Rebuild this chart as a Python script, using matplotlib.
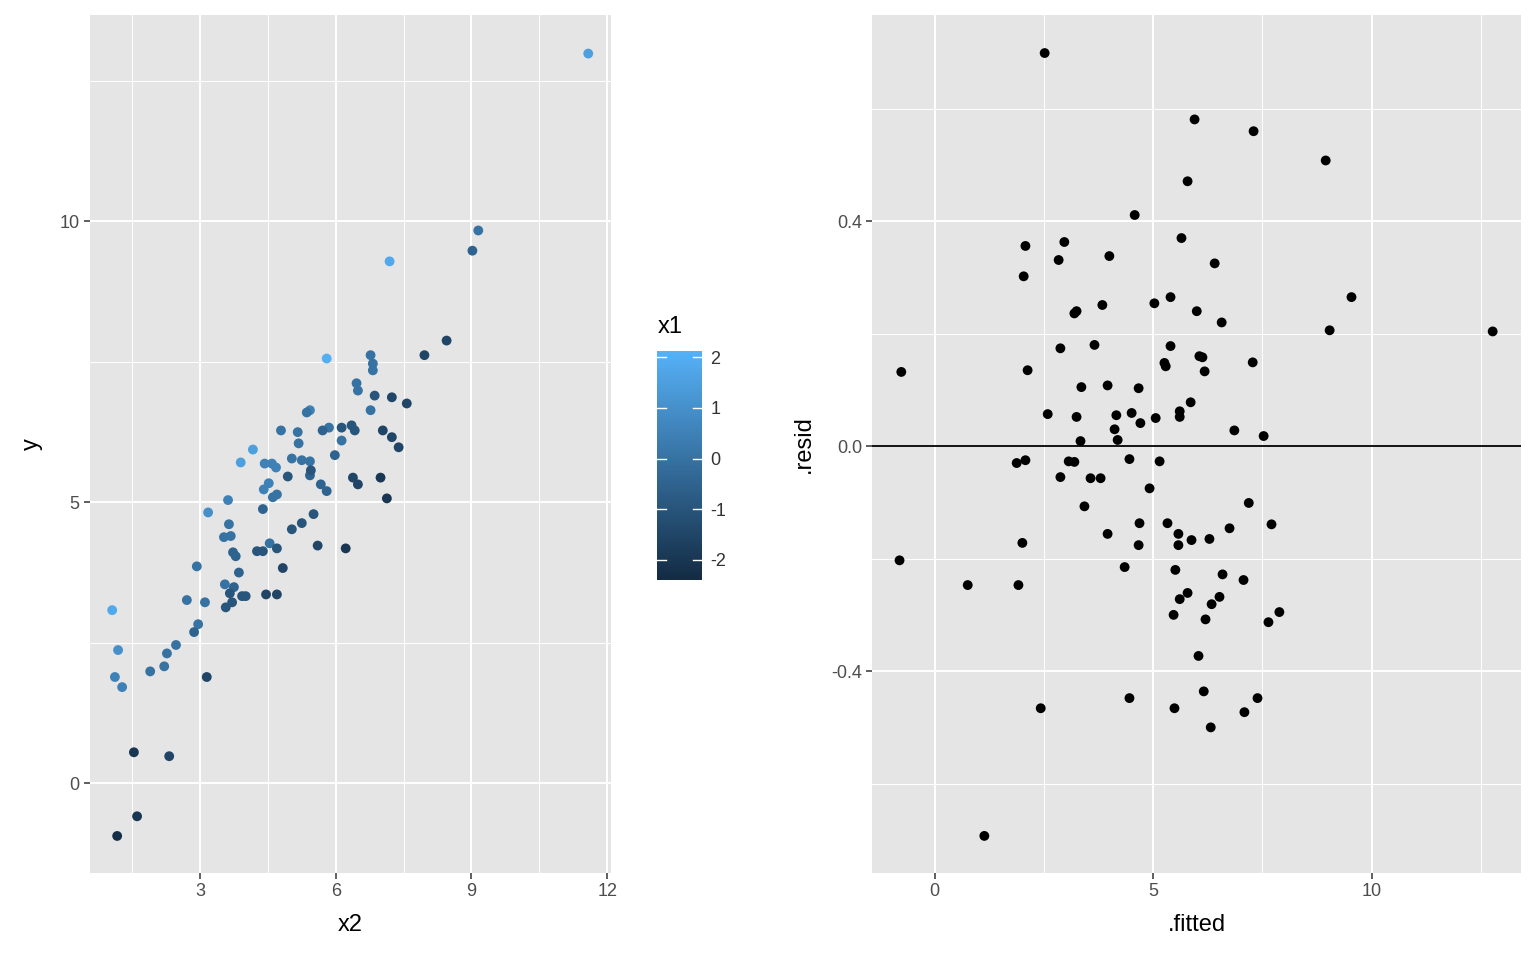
import matplotlib
matplotlib.use("Agg")
import matplotlib.pyplot as plt
import numpy as np
from matplotlib.colors import LinearSegmentedColormap, Normalize

plt.rcParams['font.family'] = ['Liberation Sans', 'DejaVu Sans']
plt.rcParams['axes.unicode_minus'] = False

# left panel: y vs x2, coloured by x1
x2 = [11.58, 9.15, 9.02, 7.19, 8.45, 7.96, 5.80, 6.77, 6.82, 6.82, 6.46, 6.49, 6.86, 7.24, 7.57,
      6.77, 5.43, 5.36, 6.35, 6.13, 6.42, 5.85, 5.71, 7.04, 7.24, 4.79, 5.16, 5.18, 6.13, 7.39,
      4.17, 3.90, 4.43, 4.59, 4.68, 5.25, 5.03, 5.43, 5.98, 4.94, 5.43, 5.45, 6.38, 6.49, 6.99,
      4.52, 4.41, 4.70, 4.61, 5.67, 5.80, 7.13, 3.62, 3.18, 4.39, 5.51, 5.25, 5.03, 3.64, 3.68,
      3.53, 5.60, 6.22, 4.54, 4.70, 4.26, 4.39, 3.73, 3.79, 2.93, 4.83, 3.86, 3.55, 3.75, 3.66,
      3.57, 3.93, 4.01, 4.46, 4.70, 3.71, 2.71, 3.11, 1.06, 2.96, 2.87, 2.47, 1.19, 2.27, 2.21,
      1.90, 1.12, 1.28, 3.15, 1.54, 2.32, 1.61, 1.17]
y = [12.99, 9.84, 9.48, 9.29, 7.88, 7.62, 7.56, 7.62, 7.47, 7.35, 7.12, 6.99, 6.90, 6.87, 6.76,
     6.64, 6.64, 6.60, 6.37, 6.33, 6.28, 6.33, 6.28, 6.28, 6.16, 6.28, 6.25, 6.05, 6.10, 5.98,
     5.94, 5.71, 5.69, 5.69, 5.62, 5.75, 5.78, 5.73, 5.84, 5.46, 5.48, 5.57, 5.44, 5.32, 5.44,
     5.34, 5.23, 5.14, 5.09, 5.32, 5.20, 5.07, 5.04, 4.82, 4.88, 4.79, 4.63, 4.52, 4.61, 4.40,
     4.38, 4.23, 4.18, 4.27, 4.18, 4.13, 4.13, 4.11, 4.04, 3.86, 3.83, 3.75, 3.54, 3.49, 3.38,
     3.13, 3.33, 3.33, 3.36, 3.36, 3.22, 3.26, 3.22, 3.08, 2.83, 2.69, 2.46, 2.37, 2.31, 2.08,
     1.99, 1.89, 1.71, 1.89, 0.55, 0.48, -0.59, -0.94]
x1 = [1.5, 0.0, -0.5, 1.8, -1.5, -1.5, 2.0, 0.0, 0.0, 0.0, 0.0, 0.0, -1.0, -1.5, -1.5,
      0.0, 0.5, 0.0, -1.0, -1.0, -1.0, 0.0, -0.5, -1.5, -1.5, 0.0, 0.0, 0.0, 0.0, -1.5,
      1.5, 1.5, 0.5, 0.5, 0.5, 0.0, 0.0, 0.0, -0.5, -1.0, -0.5, -1.0, -1.5, -1.5, -2.0,
      0.5, 0.5, 0.0, 0.0, -0.5, -0.5, -2.0, 0.5, 1.0, -0.5, -1.0, -1.0, -1.0, 0.0, 0.0,
      0.0, -1.5, -2.0, 0.0, -1.0, -1.0, -1.0, -0.5, -0.5, 0.0, -1.5, -0.5, 0.0, -0.5, -1.0,
      -1.0, -1.0, -1.0, -1.5, -1.5, -1.0, 0.0, 0.0, 1.8, 0.0, -0.5, 0.0, 1.0, 0.0, 0.0,
      0.0, 0.5, 0.5, -1.5, -2.0, -1.5, -2.0, -2.3]

# right panel: residuals vs fitted
fitted = [2.52, 5.95, 7.30, 8.95, 5.79, 4.58, 2.97, 2.08, 2.84, 5.65, 6.41, 4.00, 2.04, 9.54, 3.84,
          3.25, 3.20, 5.40, 5.03, 6.00, 6.57, 9.04, 12.77, 2.88, 3.66, 5.40, 6.06, 6.13, -0.76, 2.13,
          5.26, 5.29, 7.28, 6.18, 3.36, 3.96, 4.67, 5.86, 5.61, 4.16, 4.51, 2.59, 3.25, 5.06, 5.61,
          4.71, 4.12, 6.86, 7.53, 3.34, 4.19, 1.88, 2.08, 3.07, 3.20, 4.46, 5.15, 2.88, 3.57, 3.80,
          4.92, 3.43, 7.19, 4.69, 5.33, 7.71, 3.96, 5.58, 5.58, 5.88, 4.67, 2.01, 6.29, 6.75, -0.80,
          4.35, 5.51, 0.76, 1.92, 6.59, 7.07, 5.79, 5.61, 6.52, 6.34, 7.89, 7.64, 5.47, 6.20, 6.04,
          2.43, 4.46, 5.49, 6.16, 7.39, 7.09, 6.32, 1.14]
resid = [0.699, 0.581, 0.560, 0.508, 0.471, 0.411, 0.363, 0.356, 0.331, 0.370, 0.325, 0.338, 0.302,
         0.265, 0.251, 0.240, 0.236, 0.265, 0.254, 0.240, 0.220, 0.206, 0.204, 0.174, 0.180, 0.178,
         0.160, 0.158, 0.132, 0.135, 0.148, 0.142, 0.149, 0.133, 0.105, 0.108, 0.103, 0.078, 0.062,
         0.055, 0.059, 0.057, 0.052, 0.050, 0.052, 0.041, 0.030, 0.028, 0.018, 0.009, 0.011, -0.030,
         -0.025, -0.027, -0.028, -0.023, -0.027, -0.055, -0.057, -0.057, -0.075, -0.107, -0.101,
         -0.137, -0.137, -0.139, -0.156, -0.156, -0.176, -0.167, -0.176, -0.172, -0.165, -0.146,
         -0.203, -0.215, -0.220, -0.247, -0.247, -0.228, -0.238, -0.261, -0.272, -0.268, -0.281,
         -0.295, -0.313, -0.300, -0.308, -0.373, -0.466, -0.448, -0.466, -0.436, -0.448, -0.473,
         -0.500, -0.693]

cmap = LinearSegmentedColormap.from_list("gg", ["#132B43", "#56B1F7"])
norm = Normalize(vmin=-2.4, vmax=2.12)

fig = plt.figure(figsize=(15.36, 9.6), dpi=100)
ax1 = fig.add_axes([0.0586, 0.0906, 0.3394, 0.8934])
ax2 = fig.add_axes([0.568, 0.0906, 0.422, 0.8934])
cax = fig.add_axes([0.428, 0.396, 0.029, 0.238])


def gg_style(ax, major_x, minor_x, major_y, minor_y):
    ax.set_facecolor("#E5E5E5")
    for s in ax.spines.values():
        s.set_visible(False)
    ax.set_xticks(major_x)
    ax.set_xticks(minor_x, minor=True)
    ax.set_yticks(major_y)
    ax.set_yticks(minor_y, minor=True)
    ax.grid(True, which="major", color="white", lw=1.4)
    ax.grid(True, which="minor", color="white", lw=0.7)
    ax.set_axisbelow(True)
    ax.tick_params(which="major", length=4, width=1.1, color="#333333",
                   labelsize=13, labelcolor="#4D4D4D")
    ax.tick_params(which="minor", length=0)


ax1.scatter(x2, y, c=x1, cmap=cmap, norm=norm, s=50, edgecolors="none")
ax1.set_xlim(0.57, 12.09)
ax1.set_ylim(-1.60, 13.67)
gg_style(ax1, [3, 6, 9, 12], [1.5, 4.5, 7.5, 10.5], [0, 5, 10], [2.5, 7.5, 12.5])
ax1.set_xlabel("x2", fontsize=17, labelpad=10)
ax1.set_ylabel("y", fontsize=17, labelpad=12)

ax2.axhline(0, color="black", lw=1.3, zorder=1)
ax2.scatter(fitted, resid, color="black", s=50, edgecolors="none", zorder=2)
ax2.set_xlim(-1.42, 13.41)
ax2.set_ylim(-0.759, 0.766)
gg_style(ax2, [0, 5, 10], [2.5, 7.5, 12.5], [-0.4, 0.0, 0.4], [-0.6, -0.2, 0.2, 0.6])
ax2.set_yticklabels(["-0.4", "0.0", "0.4"])
ax2.set_xlabel(".fitted", fontsize=17, labelpad=10)
ax2.set_ylabel(".resid", fontsize=17, labelpad=12)

sm = plt.cm.ScalarMappable(cmap=cmap, norm=norm)
cb = fig.colorbar(sm, cax=cax, ticks=[-2, -1, 0, 1, 2])
cb.outline.set_visible(False)
cb.ax.tick_params(length=0, labelsize=13, labelcolor="#333333", pad=6)
for t in [-2, -1, 0, 1, 2]:
    cax.plot([0, 0.2], [t, t], color="white", lw=1, transform=cax.get_yaxis_transform())
    cax.plot([0.8, 1], [t, t], color="white", lw=1, transform=cax.get_yaxis_transform())
fig.text(0.428, 0.648, "x1", fontsize=17, ha="left", va="bottom")

fig.savefig("out.png", dpi=100)
